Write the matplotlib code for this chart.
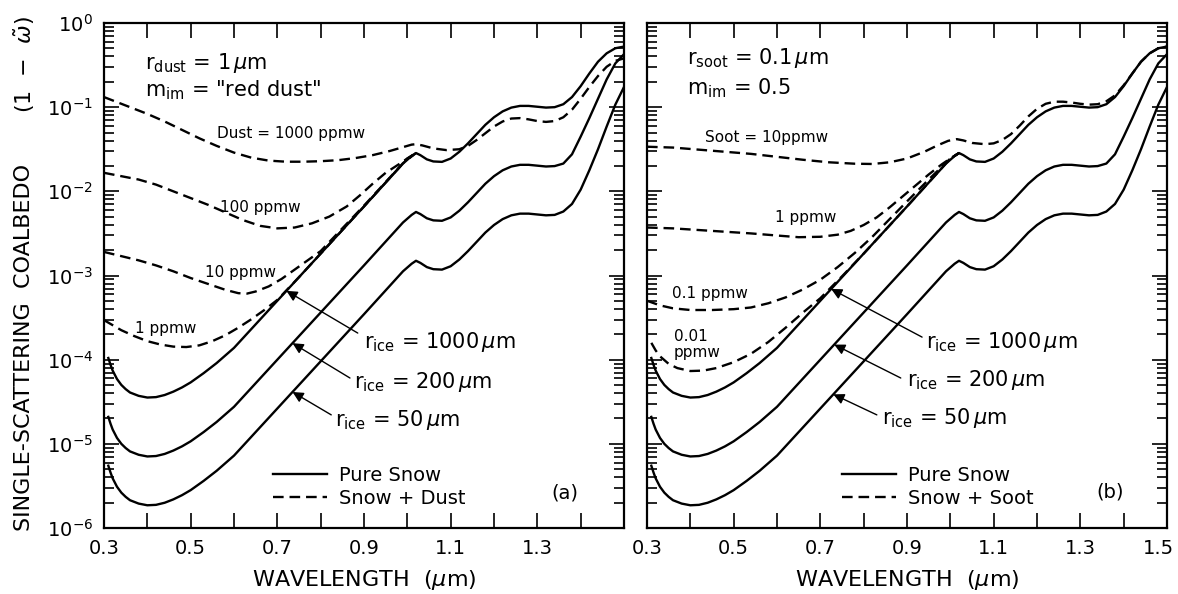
import numpy as np
import matplotlib
matplotlib.use("Agg")
import matplotlib.pyplot as plt
import matplotlib.transforms as mtransforms
from matplotlib.ticker import NullFormatter, FixedLocator, FixedFormatter

# ---------------- datos (log10 del coalbedo) ----------------
lam_snow = [0.31, 0.315, 0.32, 0.33, 0.34, 0.35, 0.36, 0.38, 0.40, 0.42, 0.44, 0.46, 0.48,
            0.50, 0.53, 0.56, 0.60, 0.65, 0.70, 0.80, 0.90, 0.96, 0.99, 1.01, 1.02, 1.03,
            1.045, 1.06, 1.08, 1.10, 1.12, 1.14, 1.16, 1.18, 1.20, 1.22, 1.24, 1.26, 1.28,
            1.30, 1.32, 1.34, 1.36, 1.38, 1.40, 1.42, 1.44, 1.46, 1.48, 1.50]
snow_1000 = [-3.98, -4.06, -4.13, -4.23, -4.30, -4.35, -4.39, -4.43, -4.45, -4.445, -4.42, -4.38, -4.33,
             -4.27, -4.16, -4.04, -3.86, -3.58, -3.30, -2.74, -2.18, -1.84, -1.67, -1.58, -1.545, -1.57,
             -1.62, -1.645, -1.65, -1.61, -1.53, -1.43, -1.32, -1.21, -1.12, -1.05, -1.005, -0.985, -0.985,
             -0.995, -1.005, -1.00, -0.965, -0.88, -0.75, -0.60, -0.46, -0.36, -0.30, -0.28]
snow_200 = [-4.68, -4.76, -4.83, -4.93, -5.00, -5.05, -5.09, -5.13, -5.15, -5.145, -5.12, -5.08, -5.03,
            -4.97, -4.86, -4.74, -4.56, -4.28, -4.00, -3.44, -2.88, -2.54, -2.37, -2.28, -2.245, -2.27,
            -2.32, -2.345, -2.35, -2.31, -2.23, -2.13, -2.02, -1.91, -1.82, -1.75, -1.705, -1.685, -1.685,
            -1.695, -1.705, -1.70, -1.67, -1.56, -1.35, -1.13, -0.90, -0.67, -0.48, -0.37]
snow_50 = [-5.26, -5.34, -5.41, -5.51, -5.58, -5.63, -5.67, -5.71, -5.73, -5.725, -5.70, -5.66, -5.61,
           -5.55, -5.44, -5.32, -5.14, -4.86, -4.58, -4.02, -3.46, -3.12, -2.95, -2.86, -2.825, -2.85,
           -2.90, -2.925, -2.93, -2.89, -2.81, -2.71, -2.60, -2.49, -2.40, -2.33, -2.285, -2.265, -2.265,
           -2.275, -2.285, -2.28, -2.24, -2.15, -1.98, -1.75, -1.50, -1.23, -0.97, -0.76]

# (a) nieve + polvo (r_ice = 1000 um)
lam_d1000 = [0.30, 0.33, 0.36, 0.40, 0.44, 0.48, 0.52, 0.56, 0.60, 0.64, 0.68, 0.72, 0.76, 0.80,
             0.84, 0.88, 0.92, 0.96, 0.99, 1.01, 1.02, 1.035, 1.06, 1.09, 1.12, 1.14, 1.16, 1.18,
             1.20, 1.22, 1.24, 1.26, 1.28, 1.30, 1.32, 1.34, 1.36, 1.38, 1.40, 1.42, 1.44, 1.46,
             1.48, 1.50]
dust_1000 = [-0.88, -0.94, -1.00, -1.08, -1.17, -1.27, -1.37, -1.46, -1.54, -1.60, -1.635, -1.648,
             -1.648, -1.642, -1.63, -1.605, -1.57, -1.52, -1.475, -1.445, -1.44, -1.455, -1.49, -1.51,
             -1.50, -1.46, -1.39, -1.31, -1.23, -1.17, -1.135, -1.13, -1.145, -1.165, -1.175, -1.165,
             -1.12, -1.03, -0.90, -0.76, -0.63, -0.52, -0.45, -0.42]
lam_d100 = [0.30, 0.34, 0.38, 0.42, 0.46, 0.50, 0.54, 0.58, 0.62, 0.66, 0.70, 0.74, 0.78, 0.82,
            0.86, 0.89, 0.92, 0.95, 0.98, 1.00, 1.02]
dust_100 = [-1.78, -1.82, -1.86, -1.92, -2.00, -2.08, -2.16, -2.25, -2.34, -2.41, -2.44, -2.43,
            -2.38, -2.30, -2.18, -2.05, -1.91, -1.78, -1.68, -1.61, -1.545]
lam_d10 = [0.30, 0.34, 0.38, 0.42, 0.46, 0.50, 0.54, 0.58, 0.61, 0.63, 0.65, 0.68, 0.71, 0.74,
           0.77, 0.80, 0.85, 0.90, 0.95, 0.99, 1.02]
dust_10 = [-2.72, -2.77, -2.82, -2.88, -2.95, -3.03, -3.10, -3.17, -3.21, -3.215, -3.19, -3.13,
           -3.04, -2.93, -2.82, -2.71, -2.44, -2.17, -1.89, -1.665, -1.545]
lam_d1 = [0.30, 0.32, 0.34, 0.37, 0.40, 0.43, 0.46, 0.49, 0.52, 0.55, 0.58, 0.61, 0.64, 0.67,
          0.70, 0.75, 0.80, 0.90, 1.00, 1.02]
dust_1 = [-3.53, -3.59, -3.65, -3.72, -3.78, -3.82, -3.845, -3.85, -3.83, -3.78, -3.71, -3.62,
          -3.52, -3.41, -3.29, -3.02, -2.74, -2.18, -1.61, -1.545]

# (b) nieve + hollin (r_ice = 1000 um)
lam_s10 = [0.30, 0.36, 0.42, 0.48, 0.54, 0.60, 0.66, 0.72, 0.78, 0.82, 0.86, 0.90, 0.94, 0.97,
           0.995, 1.015, 1.03, 1.05, 1.08, 1.10, 1.12, 1.14, 1.16, 1.18, 1.20, 1.22, 1.24, 1.26,
           1.28, 1.30, 1.32, 1.34, 1.36, 1.38, 1.40, 1.42, 1.44, 1.46, 1.48, 1.50]
soot_10 = [-1.47, -1.48, -1.505, -1.53, -1.555, -1.59, -1.625, -1.655, -1.672, -1.675, -1.655, -1.61,
           -1.53, -1.455, -1.40, -1.38, -1.395, -1.425, -1.44, -1.43, -1.39, -1.32, -1.22, -1.11,
           -1.02, -0.96, -0.935, -0.935, -0.945, -0.96, -0.97, -0.965, -0.93, -0.86, -0.74, -0.60,
           -0.46, -0.36, -0.30, -0.28]
lam_s1 = [0.30, 0.36, 0.42, 0.48, 0.54, 0.60, 0.65, 0.70, 0.74, 0.77, 0.80, 0.83, 0.86, 0.89,
          0.92, 0.95, 0.98, 1.00, 1.02]
soot_1 = [-2.43, -2.44, -2.46, -2.48, -2.50, -2.525, -2.545, -2.54, -2.515, -2.47, -2.40, -2.31,
          -2.19, -2.06, -1.93, -1.80, -1.68, -1.61, -1.545]
lam_s01 = [0.30, 0.33, 0.36, 0.40, 0.45, 0.50, 0.54, 0.58, 0.62, 0.66, 0.70, 0.74, 0.78, 0.82,
           0.86, 0.90, 0.95, 1.00, 1.02]
soot_01 = [-3.30, -3.355, -3.39, -3.41, -3.41, -3.40, -3.38, -3.33, -3.26, -3.165, -3.05, -2.90,
           -2.73, -2.54, -2.33, -2.12, -1.86, -1.61, -1.545]
lam_s001 = [0.31, 0.32, 0.33, 0.35, 0.37, 0.40, 0.43, 0.46, 0.50, 0.54, 0.58, 0.62, 0.66, 0.70,
            0.75, 0.80, 0.90, 1.00, 1.02]
soot_001 = [-3.80, -3.89, -3.96, -4.05, -4.10, -4.135, -4.13, -4.10, -4.03, -3.93, -3.79, -3.62,
            -3.44, -3.27, -3.01, -2.74, -2.18, -1.61, -1.545]

x_ticks = [0.3, 0.4, 0.5, 0.6, 0.7, 0.8, 0.9, 1.0, 1.1, 1.2, 1.3, 1.4, 1.5]
x_labels_a = ["0.3", "", "0.5", "", "0.7", "", "0.9", "", "1.1", "", "1.3", "", ""]
x_labels_b = ["0.3", "", "0.5", "", "0.7", "", "0.9", "", "1.1", "", "1.3", "", "1.5"]
y_exps = [-6, -5, -4, -3, -2, -1, 0]

LW = 1.7
DASH = (4.5, 2.5)


def v(a):
    return 10.0 ** np.asarray(a)


def preparar_ejes(ax, xlabels, show_y):
    ax.set_yscale("log")
    ax.set_xlim(0.3, 1.5)
    ax.set_ylim(1e-6, 1)
    ax.xaxis.set_major_locator(FixedLocator(x_ticks))
    ax.xaxis.set_major_formatter(FixedFormatter(xlabels))
    ax.yaxis.set_major_locator(FixedLocator([10.0 ** e for e in y_exps]))
    ax.yaxis.set_major_formatter(FixedFormatter([r"10$^{%d}$" % e for e in y_exps]))
    menores = [m * 10.0 ** e for e in y_exps[:-1] for m in range(2, 10)]
    ax.yaxis.set_minor_locator(FixedLocator(menores))
    ax.yaxis.set_minor_formatter(NullFormatter())
    ax.tick_params(which="both", direction="in", top=True, right=True, width=1.2)
    ax.tick_params(which="major", length=11, labelsize=14, pad=8)
    ax.tick_params(which="minor", length=7)
    if not show_y:
        ax.tick_params(axis="y", which="both", labelleft=False)
    for s in ax.spines.values():
        s.set_linewidth(1.6)
    ax.set_xlabel(r"WAVELENGTH  ($\mu$m)", fontsize=16, labelpad=7)


def flechas(ax, tips, tails, labels, text_pos):
    curvas = [snow_1000, snow_200, snow_50]
    for curva, lt, tail, lab, tp in zip(curvas, tips, tails, labels, text_pos):
        ax.annotate("", xy=(lt, 10 ** np.interp(lt, lam_snow, curva)), xycoords="data",
                    xytext=tail, textcoords="axes fraction",
                    arrowprops=dict(arrowstyle="-|>", color="k", lw=1.0, mutation_scale=16,
                                    shrinkA=0, shrinkB=0))
        ax.text(tp[0], tp[1], lab, transform=ax.transAxes, fontsize=15, va="center", ha="left")


fig = plt.figure(figsize=(11.78, 5.94), dpi=100)
ax1 = fig.add_axes([104 / 1178, 66 / 594, 520 / 1178, 505 / 594])
ax2 = fig.add_axes([647 / 1178, 66 / 594, 520 / 1178, 505 / 594])

ice_labels = [r"r$_{\rm ice}$ = 1000$\,\mu$m", r"r$_{\rm ice}$ = 200$\,\mu$m",
              r"r$_{\rm ice}$ = 50$\,\mu$m"]

# ---------------- (a) polvo ----------------
h_snow, = ax1.plot(lam_snow, v(snow_1000), "k-", lw=LW)
ax1.plot(lam_snow, v(snow_200), "k-", lw=LW)
ax1.plot(lam_snow, v(snow_50), "k-", lw=LW)
h_dust, = ax1.plot(lam_d1000, v(dust_1000), "k--", lw=LW, dashes=DASH)
ax1.plot(lam_d100, v(dust_100), "k--", lw=LW, dashes=DASH)
ax1.plot(lam_d10, v(dust_10), "k--", lw=LW, dashes=DASH)
ax1.plot(lam_d1, v(dust_1), "k--", lw=LW, dashes=DASH)
preparar_ejes(ax1, x_labels_a, True)

ax1.text(0.079, 0.921, r"r$_{\rm dust}$ = 1$\,\mu$m", transform=ax1.transAxes, fontsize=15, va="center")
ax1.text(0.079, 0.866, r'm$_{\rm im}$ = "red dust"', transform=ax1.transAxes, fontsize=15, va="center")
ax1.text(0.36, 0.782, "Dust = 1000 ppmw", transform=ax1.transAxes, fontsize=11, ha="center", va="center")
ax1.text(0.30, 0.634, "100 ppmw", transform=ax1.transAxes, fontsize=11, ha="center", va="center")
ax1.text(0.262, 0.505, "10 ppmw", transform=ax1.transAxes, fontsize=11, ha="center", va="center")
ax1.text(0.119, 0.396, "1 ppmw", transform=ax1.transAxes, fontsize=11, ha="center", va="center")
flechas(ax1, [0.721, 0.735, 0.735],
        [(0.488, 0.386), (0.473, 0.297), (0.437, 0.224)],
        ice_labels,
        [(0.50, 0.368), (0.481, 0.289), (0.444, 0.214)])
ax1.legend([h_snow, h_dust], ["Pure Snow", "Snow + Dust"], loc="lower left",
           bbox_to_anchor=(0.31, 0.025), frameon=False, fontsize=14, handlelength=2.8,
           handletextpad=0.6, labelspacing=0.2, borderaxespad=0)
ax1.text(0.886, 0.069, "(a)", transform=ax1.transAxes, fontsize=14, ha="center", va="center")

# ---------------- (b) hollin ----------------
h_snow2, = ax2.plot(lam_snow, v(snow_1000), "k-", lw=LW)
ax2.plot(lam_snow, v(snow_200), "k-", lw=LW)
ax2.plot(lam_snow, v(snow_50), "k-", lw=LW)
h_soot, = ax2.plot(lam_s10, v(soot_10), "k--", lw=LW, dashes=DASH)
ax2.plot(lam_s1, v(soot_1), "k--", lw=LW, dashes=DASH)
ax2.plot(lam_s01, v(soot_01), "k--", lw=LW, dashes=DASH)
ax2.plot(lam_s001, v(soot_001), "k--", lw=LW, dashes=DASH)
preparar_ejes(ax2, x_labels_b, False)

ax2.text(0.077, 0.931, r"r$_{\rm soot}$ = 0.1$\,\mu$m", transform=ax2.transAxes, fontsize=15, va="center")
ax2.text(0.077, 0.871, r"m$_{\rm im}$ = 0.5", transform=ax2.transAxes, fontsize=15, va="center")
ax2.text(0.229, 0.774, "Soot = 10ppmw", transform=ax2.transAxes, fontsize=11, ha="center", va="center")
ax2.text(0.306, 0.614, "1 ppmw", transform=ax2.transAxes, fontsize=11, ha="center", va="center")
ax2.text(0.121, 0.465, "0.1 ppmw", transform=ax2.transAxes, fontsize=11, ha="center", va="center")
ax2.text(0.052, 0.364, "0.01\nppmw", transform=ax2.transAxes, fontsize=11, ha="left", va="center",
         linespacing=1.1)
flechas(ax2, [0.725, 0.732, 0.730],
        [(0.529, 0.378), (0.488, 0.297), (0.442, 0.224)],
        ice_labels,
        [(0.537, 0.368), (0.50, 0.293), (0.452, 0.218)])
ax2.legend([h_snow2, h_soot], ["Pure Snow", "Snow + Soot"], loc="lower left",
           bbox_to_anchor=(0.36, 0.025), frameon=False, fontsize=14, handlelength=2.8,
           handletextpad=0.6, labelspacing=0.2, borderaxespad=0)
ax2.text(0.89, 0.071, "(b)", transform=ax2.transAxes, fontsize=14, ha="center", va="center")

# el "1.5" queda pegado al borde: correrlo un poco a la izquierda
ultimo = ax2.get_xticklabels()[-1]
ultimo.set_transform(ultimo.get_transform() +
                     mtransforms.ScaledTranslation(-6 / 72, 0, fig.dpi_scale_trans))

# titulo del eje y (compartido)
fig.text(24 / 1178, 1 - 347 / 594, "SINGLE-SCATTERING  COALBEDO", rotation=90,
         fontsize=16, ha="center", va="center")
fig.text(24 / 1178, 1 - 64 / 594, r"(1  $-$  $\tilde{\omega}$)", rotation=90,
         fontsize=16, ha="center", va="center")

fig.savefig("out.png", dpi=100)
